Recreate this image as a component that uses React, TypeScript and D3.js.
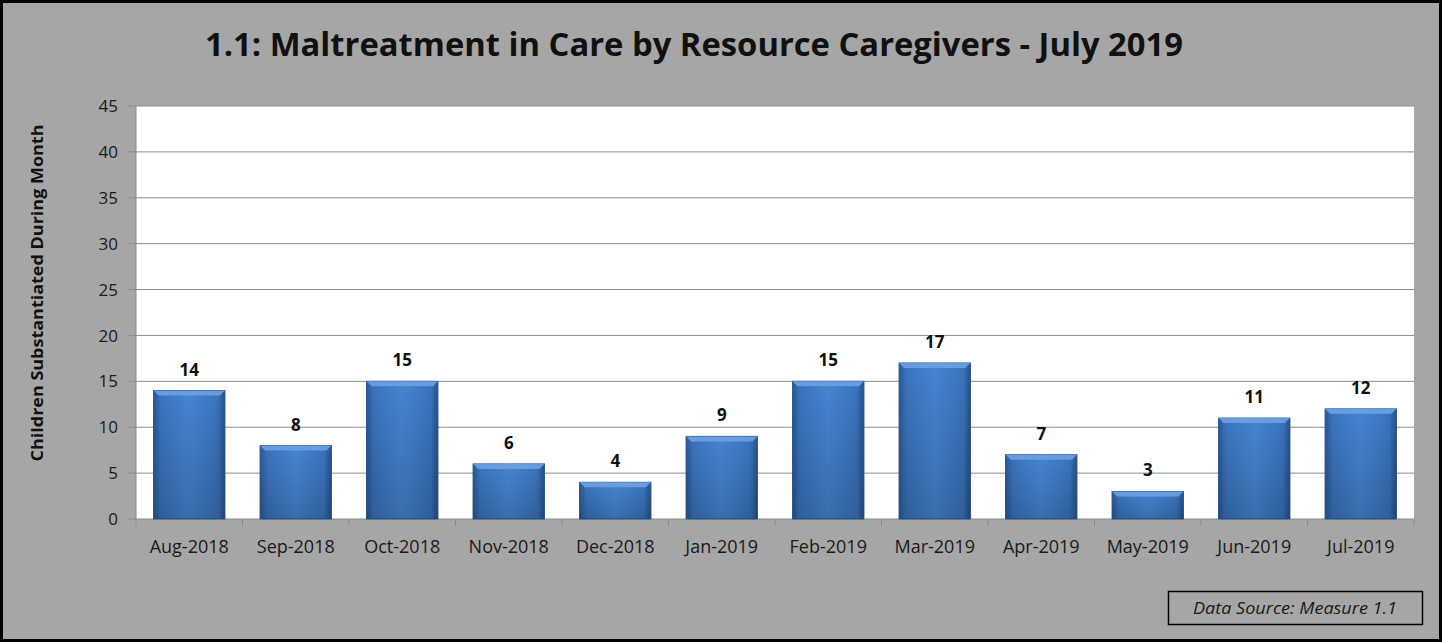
import React from "react";
import * as d3 from "d3";

const categories = ["Aug-2018","Sep-2018","Oct-2018","Nov-2018","Dec-2018","Jan-2019","Feb-2019","Mar-2019","Apr-2019","May-2019","Jun-2019","Jul-2019"];
const values = [14, 8, 15, 6, 4, 9, 15, 17, 7, 3, 11, 12];
const yTicks = [0, 5, 10, 15, 20, 25, 30, 35, 40, 45];
const title = "1.1: Maltreatment in Care by Resource Caregivers - July 2019";
const yLabel = "Children Substantiated During Month";
const sourceText = "Data Source: Measure 1.1";

const W = 1442, H = 642;
const plot = { left: 136, right: 1414, top: 106, bottom: 519 };
const FONT = "'Open Sans', 'Noto Sans', sans-serif";

export default function App() {
  const x = d3.scaleBand<string>().domain(categories).range([plot.left, plot.right]).paddingInner(0.33).paddingOuter(0.165);
  const xTick = d3.scaleBand<string>().domain(categories).range([plot.left, plot.right]);
  const y = d3.scaleLinear().domain([0, 45]).range([plot.bottom, plot.top]);
  const bw = x.bandwidth();
  return (
    <svg width={W} height={H} style={{ position: "absolute", left: 0, top: 0 }} fontFamily={FONT}>
      <defs>
        <linearGradient id="barH" x1="0" x2="1" y1="0" y2="0">
          <stop offset="0" stopColor="#2a5894" />
          <stop offset="0.1" stopColor="#3a74bd" />
          <stop offset="0.5" stopColor="#4785d1" />
          <stop offset="0.9" stopColor="#3a74bd" />
          <stop offset="1" stopColor="#26518a" />
        </linearGradient>
        <linearGradient id="barV" x1="0" x2="0" y1="0" y2="1">
          <stop offset="0" stopColor="#000" stopOpacity="0" />
          <stop offset="1" stopColor="#000" stopOpacity="0.18" />
        </linearGradient>
      </defs>
      <rect x={1.5} y={1.5} width={W - 3} height={H - 3} fill="#a6a6a6" stroke="#000" strokeWidth={3} />
      <text x={694} y={56} textAnchor="middle" fontSize={33} fontWeight="bold" fill="#111" textLength={978} lengthAdjust="spacingAndGlyphs">{title}</text>
      <rect x={plot.left} y={plot.top} width={plot.right - plot.left} height={plot.bottom - plot.top} fill="#fff" />
      {yTicks.map(t => (
        <g key={t}>
          {t > 0 && <line x1={plot.left} x2={plot.right} y1={y(t)} y2={y(t)} stroke="#8c8c8c" strokeWidth={1} />}
          <line x1={plot.left - 8} x2={plot.left} y1={y(t)} y2={y(t)} stroke="#8c8c8c" />
          <text x={plot.left - 18} y={y(t)} dy="0.36em" textAnchor="end" fontSize={17} fill="#1a1a1a">{t}</text>
        </g>
      ))}
      <line x1={plot.left} x2={plot.left} y1={plot.top} y2={plot.bottom} stroke="#8c8c8c" />
      <line x1={plot.left} x2={plot.right} y1={plot.bottom} y2={plot.bottom} stroke="#8c8c8c" />
      {categories.map(c => (
        <line key={"t" + c} x1={xTick(c)!} x2={xTick(c)!} y1={plot.bottom} y2={plot.bottom + 7} stroke="#8c8c8c" />
      ))}
      <line x1={plot.right} x2={plot.right} y1={plot.bottom} y2={plot.bottom + 7} stroke="#8c8c8c" />
      {categories.map((c, i) => {
        const bx = x(c)!;
        const by = y(values[i]);
        const bh = plot.bottom - by;
        return (
          <g key={c}>
            <rect x={bx} y={by} width={bw} height={bh} fill="url(#barH)" stroke="#2a5590" strokeWidth={1} />
            <rect x={bx} y={by} width={bw} height={bh} fill="url(#barV)" />
            <polygon points={`${bx},${by} ${bx + bw},${by} ${bx + bw - 5},${by + 5} ${bx + 5},${by + 5}`} fill="#6fa3e4" opacity={0.85} />
            <text x={bx + bw / 2} y={by - 15} textAnchor="middle" fontSize={17} fontWeight="bold" fill="#111">{values[i]}</text>
            <text x={xTick(c)! + xTick.bandwidth() / 2} y={553} textAnchor="middle" fontSize={18} fill="#1a1a1a">{c}</text>
          </g>
        );
      })}
      <text transform={`translate(43, ${293}) rotate(-90)`} textAnchor="middle" fontSize={16} fontWeight="bold" fill="#111" textLength={337} lengthAdjust="spacingAndGlyphs">{yLabel}</text>
      <rect x={1168.5} y={591.5} width={254} height={33} fill="none" stroke="#000" strokeWidth={1.5} />
      <text x={1295} y={614} textAnchor="middle" fontSize={16} fontStyle="italic" fill="#1a1a1a" textLength={204} lengthAdjust="spacingAndGlyphs">{sourceText}</text>
    </svg>
  );
}
